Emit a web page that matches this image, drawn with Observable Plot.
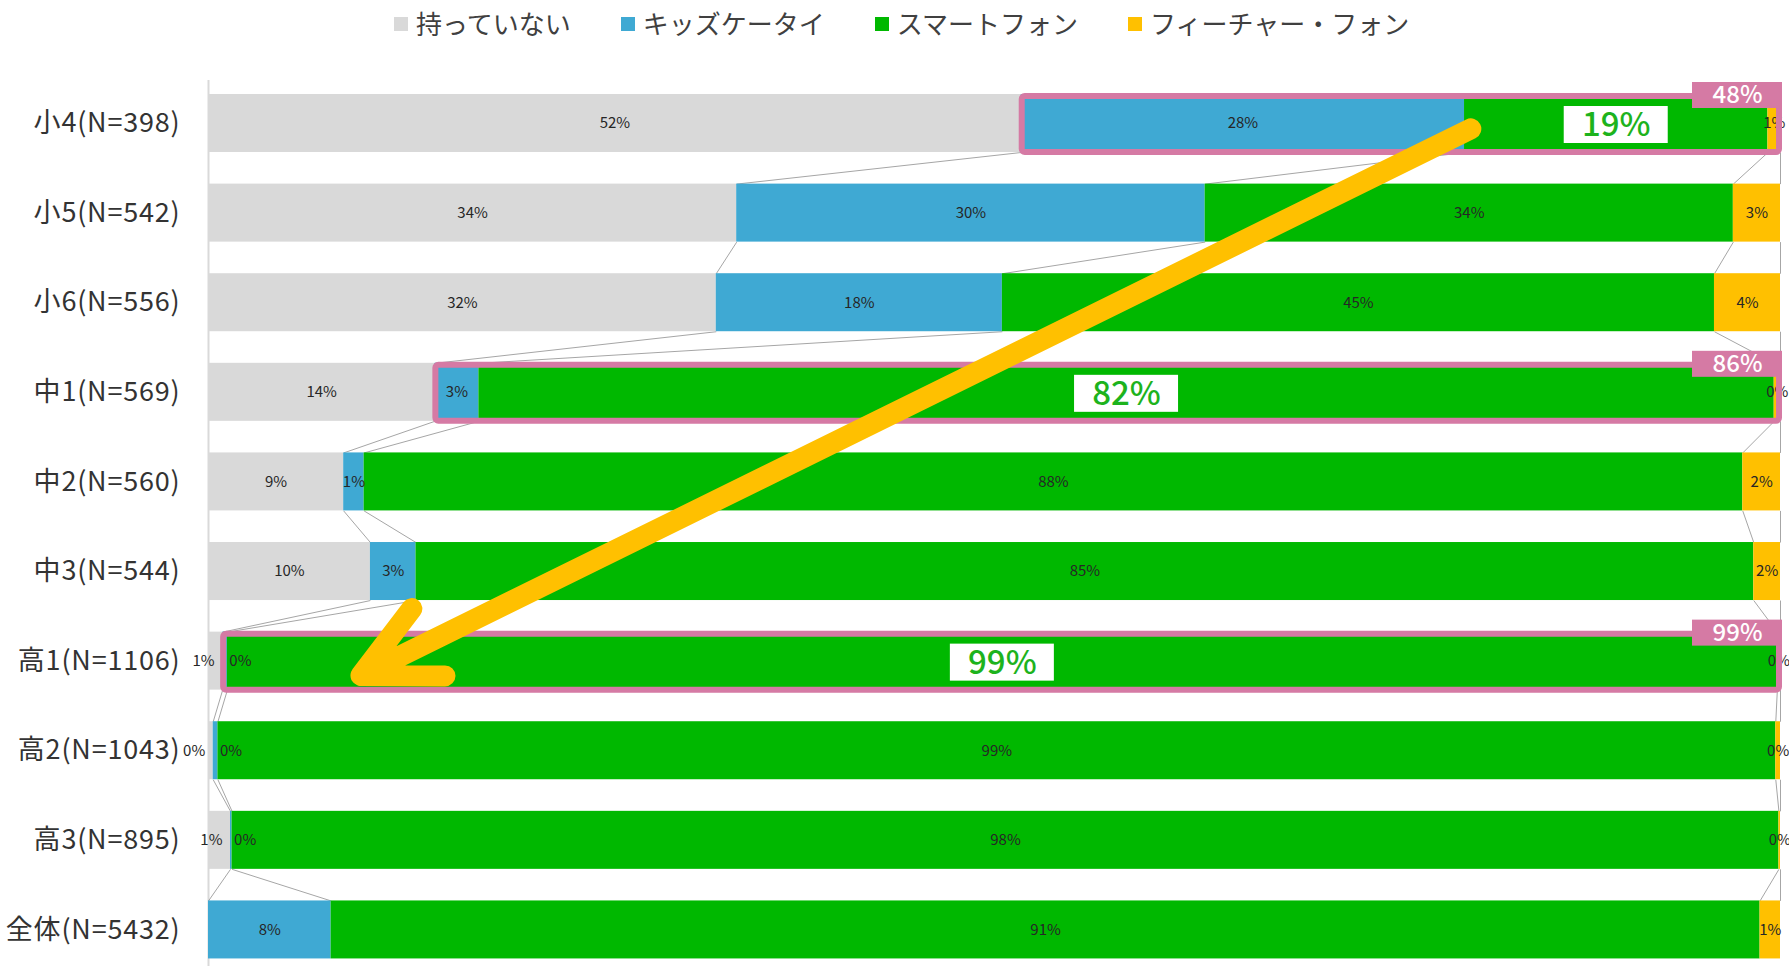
<!DOCTYPE html>
<html><head><meta charset="utf-8">
<script src="https://cdn.jsdelivr.net/npm/d3@7"></script>
<script src="https://cdn.jsdelivr.net/npm/@observablehq/plot@0.6"></script>
<style>
body{margin:0;background:#fff;font-family:'Noto Sans CJK JP',sans-serif;}
#legend{height:46px;display:flex;align-items:center;padding-left:394px;box-sizing:border-box;}
.item{display:flex;align-items:center;font-size:26px;color:#404040;margin-right:50px;line-height:1;}
.sw{width:14px;height:14px;margin-right:8px;margin-top:2px;}
g[aria-label="y-axis tick label"] text{letter-spacing:0.8px;}
</style></head><body>
<div id="legend"></div><div id="chart"></div>
<script>
const categories = ["小4(N=398)","小5(N=542)","小6(N=556)","中1(N=569)","中2(N=560)","中3(N=544)","高1(N=1106)","高2(N=1043)","高3(N=895)","全体(N=5432)"];
const seriesNames = ["持っていない","キッズケータイ","スマートフォン","フィーチャー・フォン"];
const seriesColors = ["#d9d9d9","#3fa9d3","#00b800","#ffc000"];
const none    = [51.7, 33.6, 32.3, 14.4, 8.6, 10.3, 0.9, 0.3, 1.4, 0];
const kids    = [28.2, 29.8, 18.2, 2.8, 1.3, 2.9, 0.3, 0.3, 0.1, 7.8];
const smart   = [19.3, 33.6, 45.3, 82.4, 87.7, 85.1, 98.6, 99.1, 98.4, 90.9];
const feature = [0.8, 3.0, 4.2, 0.4, 2.4, 1.7, 0.2, 0.3, 0.1, 1.3];
const highlighted = ["小4(N=398)","中1(N=569)","高1(N=1106)"];
const arrows = [{from:"小4(N=398)", fromX:80.3, to:"高1(N=1106)", toX:9.7}];

// legend
const leg = document.getElementById("legend");
seriesNames.forEach((n,s)=>{
  const it = document.createElement("div"); it.className="item";
  it.innerHTML = `<span class="sw" style="background:${seriesColors[s]}"></span><span>${n}</span>`;
  leg.appendChild(it);
});

const series = [none, kids, smart, feature];
const table = [];
categories.forEach((c,i)=>{
  let cum = 0;
  series.forEach((vals,s)=>{
    const v = vals[i];
    table.push({cat:c, i, s, v, x1:cum, x2:cum+v, mid:cum+v/2, label:Math.round(v)+"%"});
    cum += v;
  });
});
const links = [];
for (let i=0;i<categories.length-1;i++) for (let s=0;s<4;s++)
  links.push({i, x1: table[i*4+s].x2, x2: table[(i+1)*4+s].x2});

const hl = highlighted.map(c=>({cat:c, i:categories.indexOf(c)}));
const big = table.filter(d=>d.s===2 && highlighted.includes(d.cat));
const H = 0.3237;
const pink = "#d57aa4";

const isSmallGray = d => d.s===0 && d.v>0 && d.v<2;
const isSmallBlue = d => d.s===1 && d.v<2 && none[d.i]<2;
const normalLab = table.filter(d => d.v>0 && !isSmallGray(d) && !isSmallBlue(d) && !(d.s===2 && highlighted.includes(d.cat)));

const chart = Plot.plot({
  width:1789, height:920, marginTop:34, marginBottom:0, marginLeft:208, marginRight:9,
  x:{domain:[0,100], axis:null},
  y:{domain:[9.408,-0.48], axis:null},
  style:{fontFamily:"'Noto Sans CJK JP', sans-serif", background:"#fff", overflow:"visible"},
  marks:[
    Plot.ruleX([0], {stroke:"#d9d9d9", strokeWidth:2}),
    Plot.link(links, {x1:"x1", x2:"x2", y1:d=>d.i+H, y2:d=>d.i+1-H, stroke:"#a6a6a6", strokeWidth:1}),
    Plot.rect(table.filter(d=>d.v>0), {x1:"x1", x2:"x2", y1:d=>d.i-H, y2:d=>d.i+H, fill:d=>seriesColors[d.s]}),
    Plot.axisY({ticks:d3.range(categories.length), tickFormat:i=>categories[i], tickSize:0, tickPadding:28, fontSize:27, color:"#333", label:null}),
    Plot.text(normalLab, {x:"mid", y:"i", text:"label", fontSize:15, fill:"#262626"}),
    Plot.text(table.filter(isSmallGray), {x:"x2", y:"i", text:"label", fontSize:15, fill:"#262626", textAnchor:"end", dx:-8}),
    Plot.text(table.filter(isSmallBlue), {x:"x2", y:"i", text:"label", fontSize:15, fill:"#262626", textAnchor:"start", dx:2}),
    Plot.rect(hl, {x1:d=>none[d.i], x2:100, y1:d=>d.i-H, y2:d=>d.i+H, insetTop:2, insetLeft:1, insetRight:1, fill:"none", stroke:pink, strokeWidth:6, rx:3}),
    Plot.rect(hl, {x1:100, x2:100, y1:d=>d.i-H, y2:d=>d.i-H, insetLeft:-88, insetRight:-2, insetTop:-12, insetBottom:-14, fill:pink}),
    Plot.text(hl, {x:100, y:d=>d.i-H, text:d=>Math.round(100-none[d.i])+"%", dx:-43, dy:1, fill:"white", fontSize:24, fontWeight:500}),
    Plot.rect(big, {x1:"mid", x2:"mid", y1:"i", y2:"i", insetLeft:-52, insetRight:-52, insetTop:-17, insetBottom:-20, fill:"white"}),
    Plot.text(big, {x:"mid", y:"i", text:"label", fontSize:33, fontWeight:500, fill:"#1db31d", dy:2}),
    Plot.arrow(arrows, {x1:"fromX", y1:d=>categories.indexOf(d.from)+0.06, x2:"toX", y2:d=>categories.indexOf(d.to)+0.16,
      stroke:"#ffc000", strokeWidth:21, headLength:6.0, headAngle:53, strokeLinecap:"round", strokeLinejoin:"round"})
  ]
});
document.getElementById("chart").appendChild(chart);
</script>
</body></html>
